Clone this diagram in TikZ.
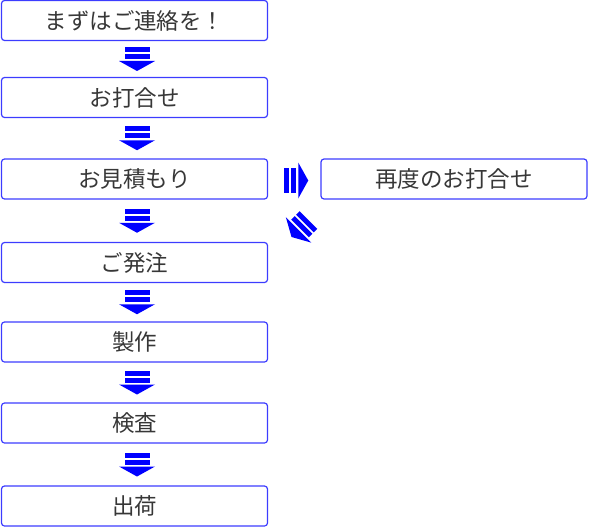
\documentclass[tikz,border=0pt]{standalone}
\usepackage{fontspec}
\newfontfamily\jpfont{Noto Sans CJK JP}
\usetikzlibrary{calc}
\definecolor{boxblue}{RGB}{60,60,255}
\definecolor{arrowblue}{RGB}{0,0,255}
\definecolor{textgray}{RGB}{55,55,55}
\tikzset{
  stepbox/.style={draw=boxblue, line width=1.2pt, rounded corners=3pt,
    minimum width=266pt, minimum height=40pt, inner sep=0pt,
    text=textgray, font=\jpfont\fontsize{22.5}{26}\selectfont},
  flowarrow/.pic={
    \fill[arrowblue] (-12.5,-12) rectangle (12.5,-7);
    \fill[arrowblue] (-12.5,-5) rectangle (12.5,0);
    \fill[arrowblue] (-18,2)--(18,2)--(0,12)--cycle;
  }
}
\begin{document}
\begin{tikzpicture}[x=1pt, y=-1pt, line join=round]
  \useasboundingbox (0,0) rectangle (589,527);
  % left column
  \foreach \n/\y/\t in {s1/20.5/まずはご連絡を！, s2/97.5/お打合せ,
    s3/179/お見積もり, s4/262.5/ご発注, s5/342/製作, s6/423/検査,
    s7/506/出荷}
    \node[stepbox] (\n) at (134.5,\y) {\t};
  % side box
  \node[stepbox] (r1) at (454,179) {再度のお打合せ};
  % arrows
  \foreach \a/\b in {s1/s2,s2/s3,s3/s4,s4/s5,s5/s6,s6/s7}
    \pic at ($(\a.south)!0.5!(\b.north)+(2.5,0)$) {flowarrow};
  \pic[rotate=90] at ($(s3.east)!0.5!(r1.west)+(2,1.5)$) {flowarrow};
  \pic[rotate=-45] at (300,228.5) {flowarrow};
\end{tikzpicture}
\end{document}
